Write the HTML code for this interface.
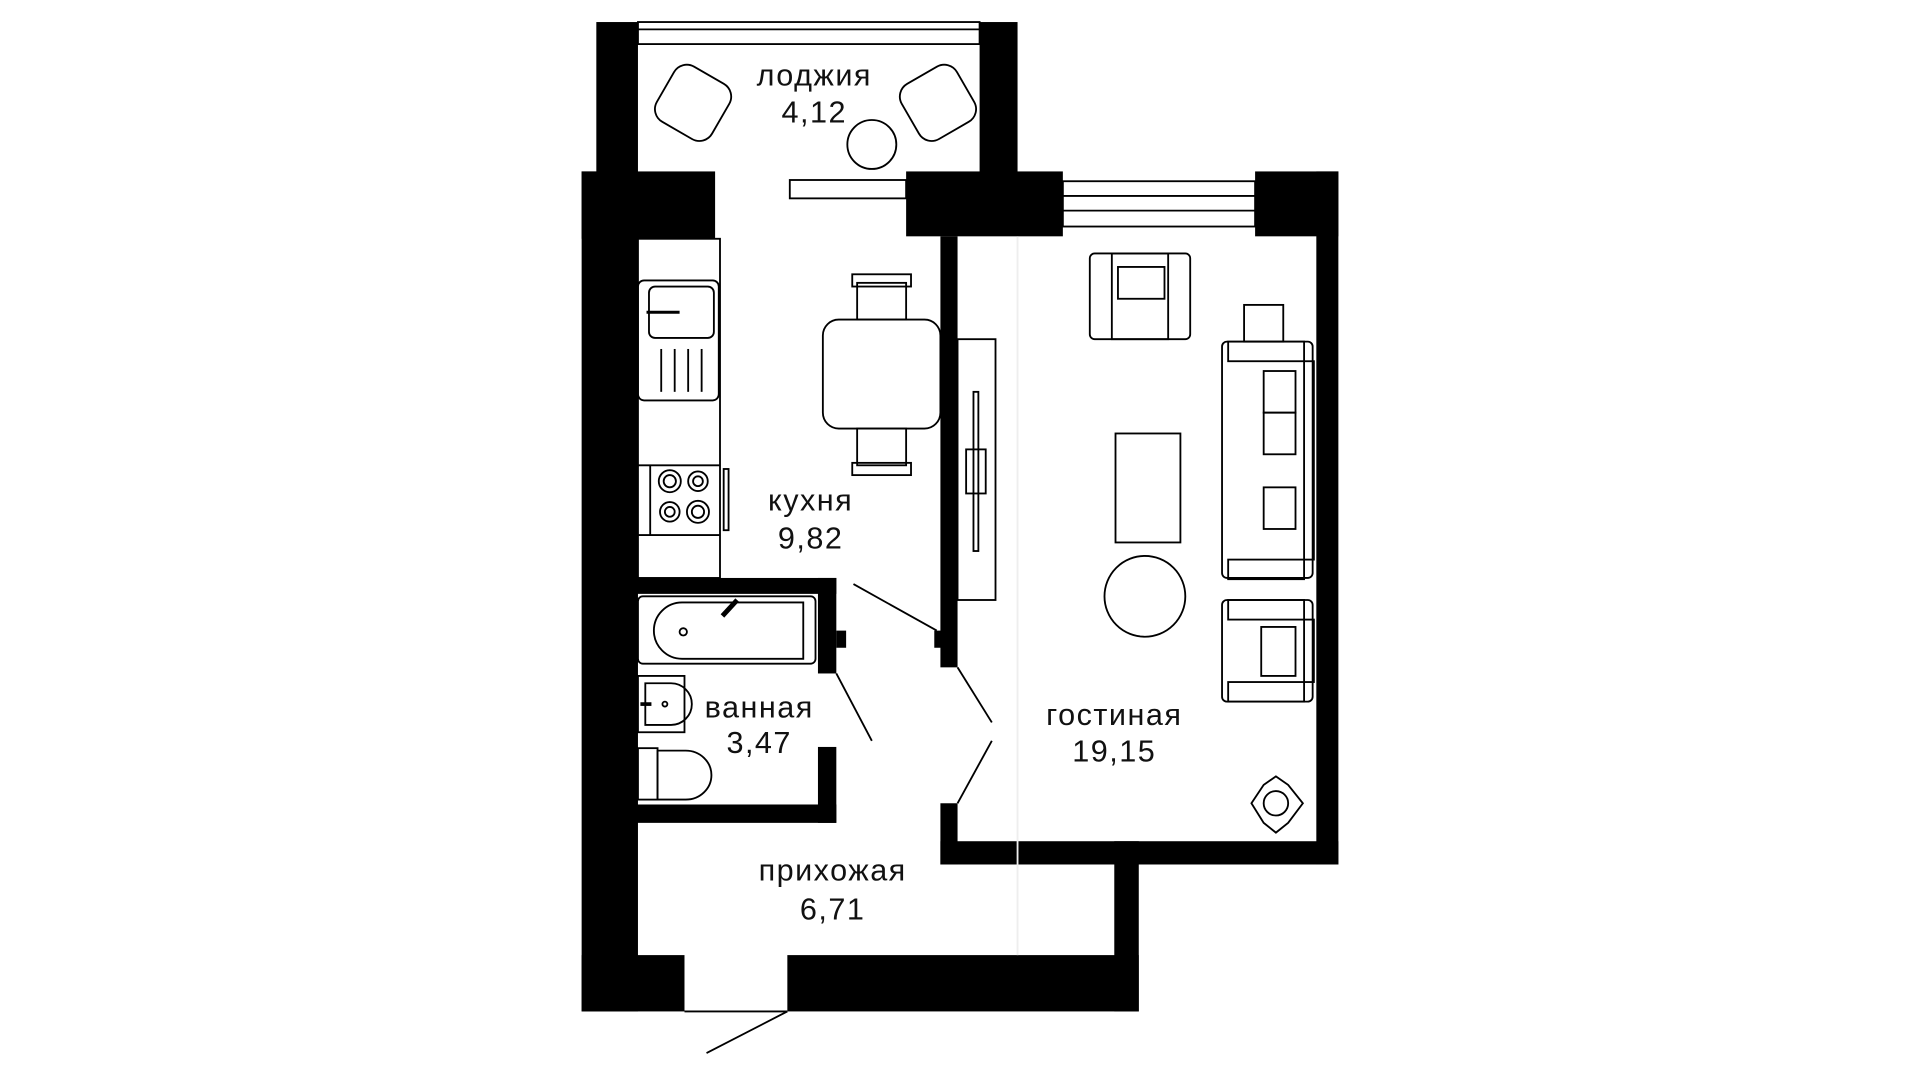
<!DOCTYPE html>
<html><head><meta charset="utf-8"><style>
html,body{margin:0;padding:0;background:#fff;}
svg{display:block}
text{font-family:"Liberation Sans",sans-serif;font-size:25px;letter-spacing:1.2px;fill:#111;text-anchor:middle}
</style></head><body>
<svg width="1920" height="1080" viewBox="0 0 1568 882" xmlns="http://www.w3.org/2000/svg">
<rect width="1568" height="882" fill="#fff"/>
<g fill="#000">
<rect x="487" y="18" width="34" height="124"/>
<rect x="800" y="18" width="31" height="124"/>
<rect x="475" y="140" width="46" height="686"/>
<rect x="475" y="140" width="109" height="55"/>
<rect x="740" y="140" width="128" height="53"/>
<rect x="1025" y="140" width="68" height="53"/>
<rect x="1075" y="140" width="18" height="566"/>
<rect x="768" y="193" width="14" height="352"/>
<rect x="763" y="515" width="6" height="14"/>
<rect x="768" y="656" width="14" height="50"/>
<rect x="768" y="687" width="325" height="19"/>
<rect x="910" y="687" width="20" height="139"/>
<rect x="643" y="780" width="287" height="46"/>
<rect x="475" y="780" width="84" height="46"/>
<rect x="520" y="472" width="163" height="13"/>
<rect x="668" y="472" width="15" height="78"/>
<rect x="683" y="515" width="8" height="14"/>
<rect x="668" y="610" width="15" height="62"/>
<rect x="520" y="657" width="163" height="15"/>
</g>
<g fill="none" stroke="#000" stroke-width="1.5">
<rect x="521" y="18" width="279" height="18"/>
<line x1="521" y1="24" x2="800" y2="24"/>
<rect x="645" y="147" width="95" height="15"/>
<rect x="868" y="148" width="157" height="37"/>
<line x1="868" y1="160" x2="1025" y2="160"/>
<line x1="868" y1="172" x2="1025" y2="172"/>
<line x1="559" y1="826" x2="643" y2="826"/>
<line x1="643" y1="826" x2="577" y2="860"/>
<line x1="697" y1="477" x2="765" y2="515"/>
<line x1="782" y1="545" x2="810" y2="590"/>
<line x1="810" y1="605" x2="782" y2="656"/>
<line x1="683" y1="550" x2="712" y2="605"/>
<line x1="831" y1="193" x2="831" y2="780" stroke="#eee"/>
<rect x="521" y="195" width="67" height="277"/>
<rect x="521" y="229" width="66" height="98" rx="5"/>
<rect x="530" y="234" width="53" height="42" rx="5"/>
<line x1="528" y1="255" x2="555" y2="255" stroke-width="2.5"/>
<line x1="540" y1="285" x2="540" y2="320"/><line x1="551" y1="285" x2="551" y2="320"/><line x1="562" y1="285" x2="562" y2="320"/><line x1="573" y1="285" x2="573" y2="320"/>
<line x1="521" y1="380" x2="588" y2="380"/><line x1="521" y1="437" x2="588" y2="437"/>
<line x1="531" y1="380" x2="531" y2="437"/>
<rect x="591" y="383" width="4" height="50"/>
<circle cx="547" cy="393" r="9"/><circle cx="547" cy="393" r="5"/>
<circle cx="570" cy="393" r="8"/><circle cx="570" cy="393" r="4"/>
<circle cx="547" cy="418" r="8"/><circle cx="547" cy="418" r="4"/>
<circle cx="570" cy="418" r="9"/><circle cx="570" cy="418" r="5"/>
<rect x="672" y="261" width="96" height="89" rx="13"/>
<rect x="700" y="231" width="40" height="30"/>
<rect x="696" y="224" width="48" height="10"/>
<rect x="700" y="350" width="40" height="30"/>
<rect x="696" y="378" width="48" height="10"/>
<rect x="782" y="277" width="31" height="213"/>
<rect x="795" y="320" width="4" height="130"/>
<rect x="789" y="367" width="16" height="36"/>
<circle cx="712" cy="118" r="20"/>
<rect x="540" y="58" width="52" height="52" rx="12" transform="rotate(30 566 84)"/>
<rect x="740" y="58" width="52" height="52" rx="12" transform="rotate(-30 766 84)"/>
<rect x="521" y="487" width="145" height="55" rx="4"/>
<path d="M557 492 H656 V538 H557 A23 23 0 0 1 557 492 Z"/>
<circle cx="558" cy="516" r="3"/>
<line x1="590" y1="503" x2="602" y2="490" stroke-width="4"/>
<rect x="521" y="552" width="38" height="46"/>
<path d="M527 558 H548 A15 15 0 0 1 548 592 H527 Z"/>
<line x1="523" y1="575" x2="532" y2="575" stroke-width="3"/>
<circle cx="543" cy="575" r="2"/>
<rect x="521" y="611" width="16" height="42"/>
<path d="M537 613 H560 A21 20 0 0 1 560 653 H537 Z"/>
<rect x="890" y="207" width="82" height="70" rx="4"/>
<rect x="908" y="207" width="46" height="70"/>
<rect x="913" y="218" width="38" height="26"/>
<rect x="1016" y="249" width="32" height="30"/>
<rect x="998" y="279" width="74" height="193" rx="4"/>
<rect x="1003" y="279" width="62" height="16"/>
<rect x="1003" y="457" width="62" height="16"/>
<rect x="1065" y="295" width="8" height="162"/>
<rect x="1032" y="303" width="26" height="34"/><rect x="1032" y="337" width="26" height="34"/><rect x="1032" y="398" width="26" height="34"/>
<rect x="998" y="490" width="74" height="83" rx="4"/>
<rect x="1003" y="490" width="62" height="16"/><rect x="1003" y="557" width="62" height="16"/>
<rect x="1065" y="506" width="8" height="51"/>
<rect x="1030" y="512" width="28" height="40"/>
<rect x="911" y="354" width="53" height="89"/>
<circle cx="935" cy="487" r="33"/>
<circle cx="1042" cy="656" r="10"/>
<path d="M1022 656 L1032 641 L1042 634 L1052 641 L1064 656 L1052 672 L1042 680 L1032 672 Z"/>
</g>
<text x="665" y="70">лоджия</text><text x="665" y="100">4,12</text>
<text x="662" y="417" fill="#555">кухня</text><text x="662" y="448" fill="#555">9,82</text>
<text x="620" y="586">ванная</text><text x="620" y="615">3,47</text>
<text x="910" y="592">гостиная</text><text x="910" y="622">19,15</text>
<text x="680" y="719">прихожая</text><text x="680" y="751">6,71</text>
</svg>
</body></html>
